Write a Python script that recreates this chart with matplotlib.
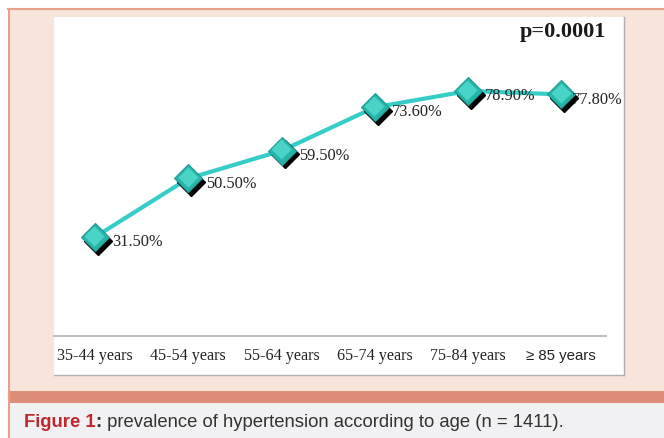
import matplotlib
matplotlib.use("Agg")
import matplotlib.pyplot as plt
from matplotlib.patches import Rectangle
from matplotlib.lines import Line2D
import matplotlib.transforms as mtransforms

# ---- data ----
categories = ["35-44 years", "45-54 years", "55-64 years", "65-74 years", "75-84 years", "\u2265 85 years"]
prevalence = [31.5, 50.5, 59.5, 73.6, 78.9, 77.8]
value_labels = ["31.50%", "50.50%", "59.50%", "73.60%", "78.90%", "77.80%"]
p_text = "p=0.0001"
caption_red = "Figure 1"
caption_colon = ":"
caption_rest = " prevalence of hypertension according to age (n = 1411)."

W, H = 664, 439
fig = plt.figure(figsize=(W / 100, H / 100), dpi=100, facecolor="white")

def fx(x):
    return x / W

def fy(y):
    return 1 - y / H

def rect(x0, y0, x1, y1, **kw):
    fig.patches.append(Rectangle((fx(x0), fy(y1)), fx(x1) - fx(x0), fy(y0) - fy(y1),
                                 transform=fig.transFigure, **kw))

def hline(x0, x1, y, **kw):
    fig.lines.append(Line2D([fx(x0), fx(x1)], [fy(y), fy(y)], transform=fig.transFigure, **kw))

def vline(x, y0, y1, **kw):
    fig.lines.append(Line2D([fx(x), fx(x)], [fy(y0), fy(y1)], transform=fig.transFigure, **kw))

peach = "#f7e4db"
salmon = "#de8e78"
border = "#e9a08a"
# background frames
rect(8, 10, W, 392, facecolor=peach, edgecolor="none", zorder=0)
rect(8, 392, W, 404, facecolor=salmon, edgecolor="none", zorder=0)
rect(8, 404, W, H, facecolor="#f1f1f3", edgecolor="none", zorder=0)
hline(8, W, 10, color=border, lw=1.5, zorder=1)
vline(8.5, 10, H, color=border, lw=1.5, zorder=1)
# white chart panel
rect(54, 18, 624, 376, facecolor="white", edgecolor="none", zorder=1)
vline(624, 18, 376, color="#b0b0b0", lw=1.0, zorder=2)
hline(54, 624, 376, color="#b0b0b0", lw=1.0, zorder=2)
# category axis line
hline(54, 606, 337, color="#c0c0c0", lw=1.5, zorder=3)

# axes: y=0 at pixel 335, y=100 at pixel 27
ax_l, ax_r, ax_t, ax_b = 54, 606, 27, 335
ax = fig.add_axes([fx(ax_l), fy(ax_b), fx(ax_r) - fx(ax_l), fy(ax_t) - fy(ax_b)])
ax.patch.set_alpha(0)
ax.set_zorder(5)
ax.set_ylim(0, 100)
ax.set_xlim(-0.44, 5.48)
for s in ax.spines.values():
    s.set_visible(False)
ax.set_yticks([])
ax.set_xticks([])

x = list(range(len(categories)))
ms = 14.5
ax.plot(x, prevalence, color="#35cdc8", lw=3.0, solid_capstyle="round", zorder=2)
shadow_tr = mtransforms.offset_copy(ax.transData, fig=fig, x=2.2, y=-2.6, units="points")
ax.plot(x, prevalence, linestyle="none", marker="D", markersize=ms,
        markerfacecolor="black", markeredgecolor="black", transform=shadow_tr, zorder=3)
ax.plot(x, prevalence, linestyle="none", marker="D", markersize=ms,
        markerfacecolor="#27b5aa", markeredgecolor="#1f9e95", markeredgewidth=0.8, zorder=4)
# lighter upper part of marker (gradient look)
hl_tr = mtransforms.offset_copy(ax.transData, fig=fig, x=-0.5, y=1.0, units="points")
ax.plot(x, prevalence, linestyle="none", marker="D", markersize=ms - 4.5,
        markerfacecolor="#4fd8cc", markeredgecolor="none", transform=hl_tr, zorder=4, alpha=0.9)

label_dx = [12.5, 12.5, 12.5, 12.5, 12.5, 7.5]
for xi, v, t, dx in zip(x, prevalence, value_labels, label_dx):
    ax.annotate(t, (xi, v), xytext=(dx, -3), textcoords="offset points",
                ha="left", va="center", fontsize=11.8, family="Liberation Serif",
                color="#222222", zorder=6)

# category labels at pixel y = 356
lab_tr = mtransforms.blended_transform_factory(ax.transData, fig.transFigure)
for xi, c in zip(x, categories):
    is_sym = c.startswith("\u2265")
    fam = "Liberation Sans" if is_sym else "Liberation Serif"
    fs = 10.8 if is_sym else 11.6
    ax.text(xi, fy(356), c, transform=lab_tr, ha="center", va="center",
            fontsize=fs, family=fam, color="#222222")

fig.text(fx(606), fy(32), p_text, ha="right", va="center", fontsize=16,
         fontweight="bold", family="Liberation Serif", color="#1a1a1a")

# caption
cap_fs = 13.3
t1 = fig.text(fx(24), fy(427), caption_red, ha="left", va="baseline", fontsize=cap_fs,
              fontweight="bold", family="Liberation Sans", color="#c1272d")
fig.canvas.draw()
bb = t1.get_window_extent()
t2 = fig.text(bb.x1 / W, fy(427), caption_colon, ha="left", va="baseline", fontsize=cap_fs,
              fontweight="bold", family="Liberation Sans", color="#333333")
fig.canvas.draw()
bb2 = t2.get_window_extent()
fig.text(bb2.x1 / W, fy(427), caption_rest, ha="left", va="baseline", fontsize=cap_fs,
         family="Liberation Sans", color="#333333")

fig.savefig("out.png", dpi=100, facecolor="white")
